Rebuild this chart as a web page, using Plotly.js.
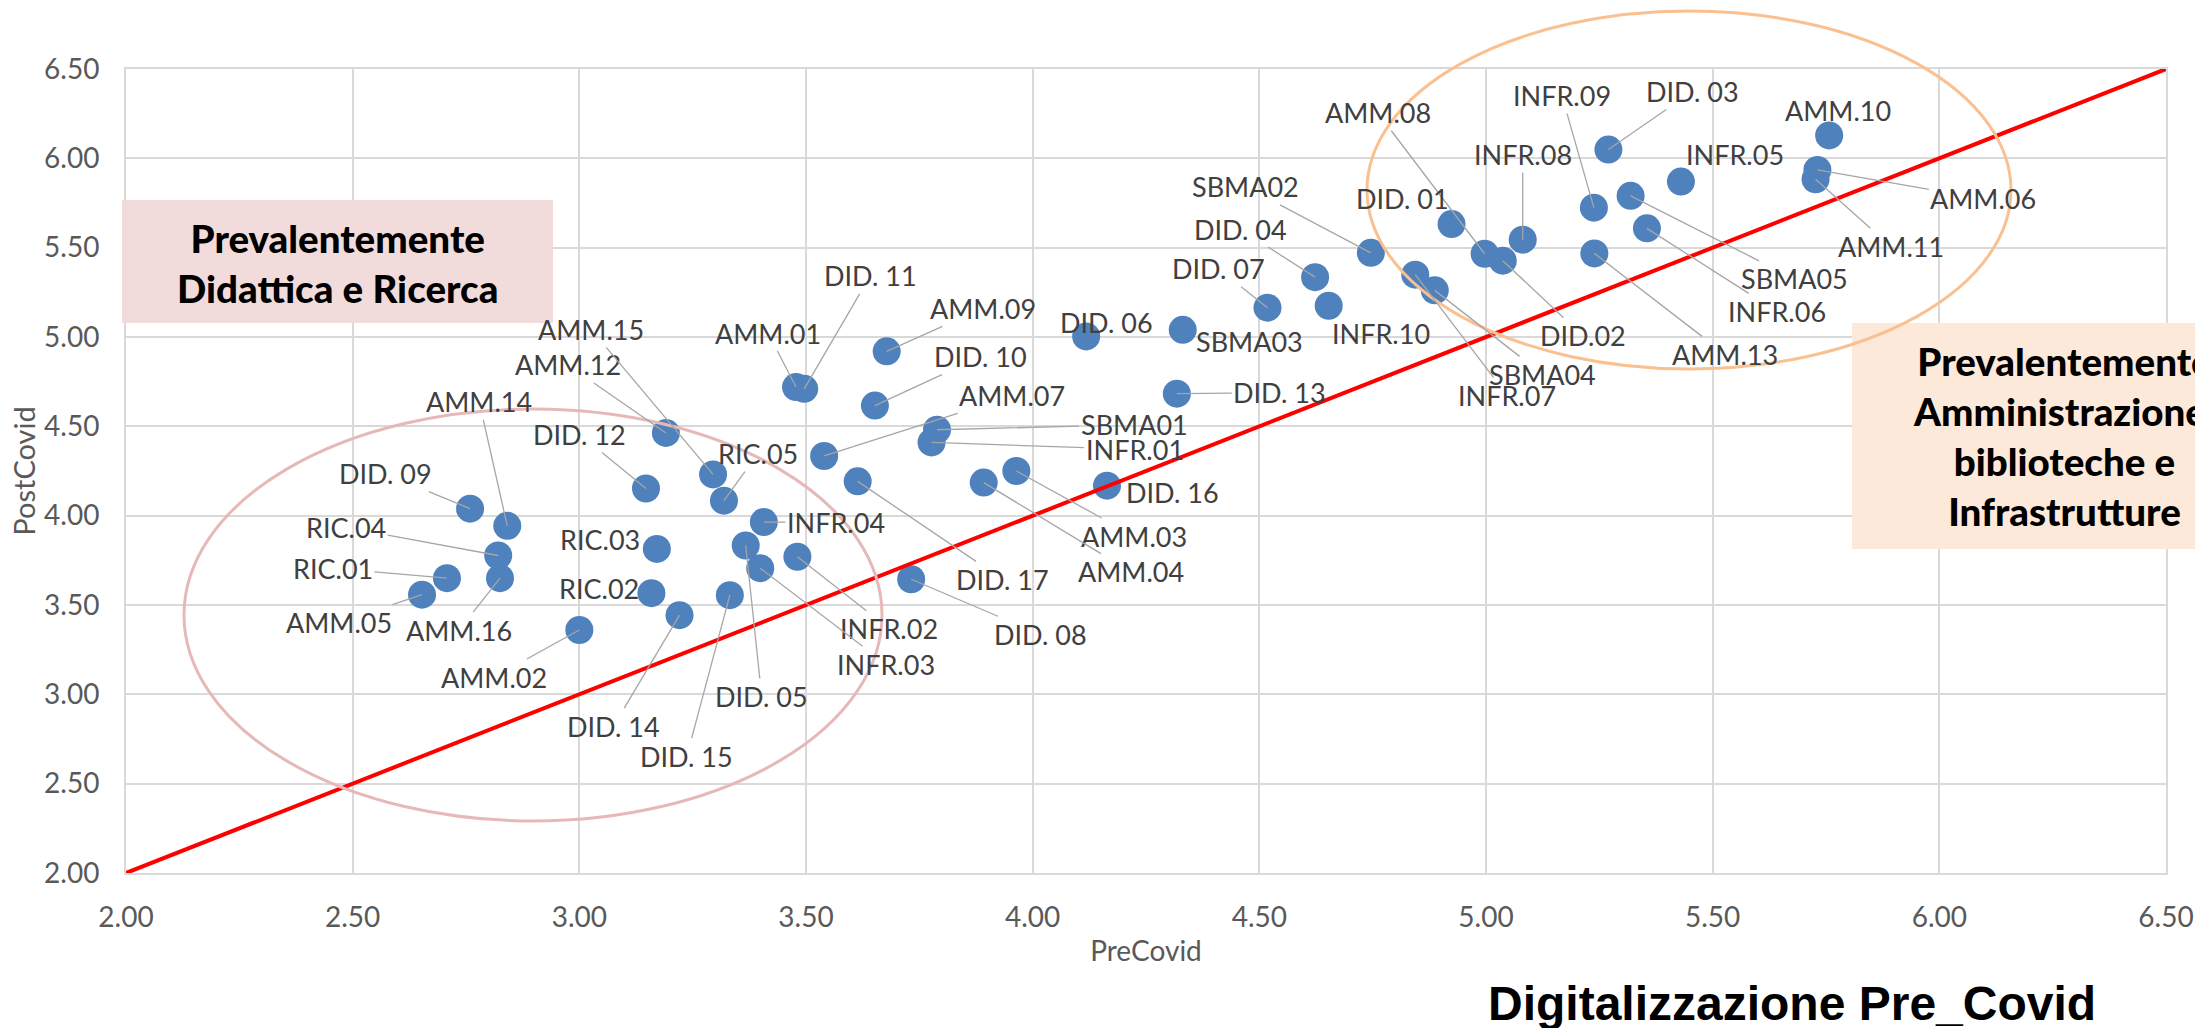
<!DOCTYPE html>
<html>
<head>
<meta charset="utf-8">
<script src="https://cdn.plot.ly/plotly-3.0.1.min.js"></script>
<style>
  html, body { margin: 0; padding: 0; background: #ffffff; }
  #chart { width: 2195px; height: 1028px; }
</style>
</head>
<body>
<div id="chart"></div>
<script>
// ---------------- DATA ----------------
const labels = [
  'AMM.01','AMM.02','AMM.03','AMM.04','AMM.05','AMM.06','AMM.07','AMM.08',
  'AMM.09','AMM.10','AMM.11','AMM.12','AMM.13','AMM.14','AMM.15','AMM.16',
  'DID. 01','DID.02','DID. 03','DID. 04','DID. 05','DID. 06','DID. 07','DID. 08',
  'DID. 09','DID. 10','DID. 11','DID. 12','DID. 13','DID. 14','DID. 15','DID. 16','DID. 17',
  'INFR.01','INFR.02','INFR.03','INFR.04','INFR.05','INFR.06','INFR.07','INFR.08','INFR.09','INFR.10',
  'RIC.01','RIC.02','RIC.03','RIC.04','RIC.05',
  'SBMA01','SBMA02','SBMA03','SBMA04','SBMA05'
];
const preCovid = [
  3.478, 3.000, 3.964, 3.892, 2.653, 5.731, 3.540, 4.997,
  3.678, 5.757, 5.727, 3.191, 5.239, 2.841, 3.295, 2.825,
  4.924, 5.037, 5.270, 4.623, 3.367, 4.118, 4.518, 3.732,
  2.759, 3.652, 3.496, 3.147, 4.318, 3.221, 3.332, 4.164, 3.614,
  3.777, 3.481, 3.399, 3.407, 5.430, 5.355, 4.844, 5.081, 5.238, 4.653,
  2.708, 3.159, 3.171, 2.821, 3.319,
  3.789, 4.746, 4.331, 4.887, 5.319
];
const postCovid = [
  4.720, 3.360, 4.250, 4.185, 3.558, 5.935, 4.334, 5.466,
  4.920, 6.128, 5.883, 4.463, 5.468, 3.943, 4.231, 3.650,
  5.632, 5.427, 6.049, 5.335, 3.833, 5.003, 5.164, 3.644,
  4.039, 4.616, 4.710, 4.152, 4.683, 3.443, 3.555, 4.168, 4.192,
  4.410, 3.770, 3.706, 3.964, 5.870, 5.608, 5.349, 5.545, 5.724, 5.175,
  3.650, 3.566, 3.814, 3.777, 4.084,
  4.481, 5.471, 5.040, 5.261, 5.790
];
const diagonal = [2.0, 6.5];
const tickValues = [2.0, 2.5, 3.0, 3.5, 4.0, 4.5, 5.0, 5.5, 6.0, 6.5];
const tickLabels = ['2.00','2.50','3.00','3.50','4.00','4.50','5.00','5.50','6.00','6.50'];
const xTitle = 'PreCovid';
const yTitle = 'PostCovid';
const bigTitle = 'Digitalizzazione Pre_Covid';
const leftBoxText = 'Prevalentemente<br>Didattica e Ricerca';
const rightBoxText = 'Prevalentemente<br>Amministrazione,<br>biblioteche e<br>Infrastrutture';

// ---------------- LABEL PLACEMENT (pixel offsets dx, dy, leader line) ----------------
const labelOffsets = {
  'AMM.01':[-28,-54,1], 'AMM.02':[-85,47,1], 'AMM.03':[118,65,1], 'AMM.04':[147,89,1],
  'AMM.05':[-83,28,1], 'AMM.06':[166,29,1], 'AMM.07':[188,-60,1], 'AMM.08':[-107,-141,1],
  'AMM.09':[96,-43,1], 'AMM.10':[9,-25,0], 'AMM.11':[75,67,1], 'AMM.12':[-98,-68,1],
  'AMM.13':[131,101,1], 'AMM.14':[-28,-124,1], 'AMM.15':[-122,-145,1], 'AMM.16':[-41,52,1],
  'DID. 01':[-49,-26,0], 'DID.02':[80,75,1], 'DID. 03':[84,-58,1], 'DID. 04':[-75,-48,1],
  'DID. 05':[16,151,1], 'DID. 06':[20,-14,0], 'DID. 07':[-49,-39,1], 'DID. 08':[129,55,1],
  'DID. 09':[-85,-35,1], 'DID. 10':[106,-49,1], 'DID. 11':[66,-113,1], 'DID. 12':[-66,-54,1],
  'DID. 13':[103,-1,1], 'DID. 14':[-66,111,1], 'DID. 15':[-43,161,1], 'DID. 16':[65,7,0],
  'DID. 17':[145,98,1],
  'INFR.01':[203,7,1], 'INFR.02':[92,72,1], 'INFR.03':[126,96,1], 'INFR.04':[72,0,1],
  'INFR.05':[54,-27,0], 'INFR.06':[130,83,1], 'INFR.07':[92,121,1], 'INFR.08':[0,-85,1],
  'INFR.09':[-32,-112,1], 'INFR.10':[52,28,0],
  'RIC.01':[-114,-10,1], 'RIC.02':[-52,-5,0], 'RIC.03':[-57,-9,0], 'RIC.04':[-152,-28,1],
  'RIC.05':[34,-47,1],
  'SBMA01':[197,-5,1], 'SBMA02':[-125,-66,1], 'SBMA03':[67,12,0], 'SBMA04':[108,84,1],
  'SBMA05':[164,83,1]
};

// ---------------- LAYOUT GEOMETRY ----------------
const W = 2195, H = 1028;
const M = { l: 126, r: 29, t: 69, b: 155 };
const PW = W - M.l - M.r, PH = H - M.t - M.b;
const px2x = px => (px - M.l) / PW;      // pixel -> paper x
const px2y = py => (M.t + PH - py) / PH; // pixel -> paper y

const FONT = 'Lato, Carlito, Calibri, "Noto Sans", sans-serif';
const LABEL_COLOR = '#404040';
const AXIS_COLOR = '#595959';

const annotations = labels.map((lab, i) => {
  const o = labelOffsets[lab] || [0, -25, 0];
  const base = {
    x: preCovid[i], y: postCovid[i], xref: 'x', yref: 'y',
    text: lab,
    font: { family: FONT, size: 27, color: LABEL_COLOR }
  };
  if (o[2]) {
    return Object.assign(base, {
      showarrow: true, ax: o[0], ay: o[1], axref: 'pixel', ayref: 'pixel',
      arrowhead: 0, arrowwidth: 1.3, arrowcolor: '#a6a6a6', standoff: 0
    });
  }
  return Object.assign(base, { showarrow: false, xshift: o[0], yshift: -o[1] });
});

// quadrant boxes text
annotations.push({
  xref: 'paper', yref: 'paper', x: px2x(337.5), y: px2y(263),
  xanchor: 'center', yanchor: 'middle', showarrow: false, align: 'center',
  text: leftBoxText,
  font: { family: FONT, size: 38.5, color: '#000000', weight: 900 }
});
annotations.push({
  xref: 'paper', yref: 'paper', x: px2x(2064), y: px2y(436),
  xanchor: 'center', yanchor: 'middle', showarrow: false, align: 'center',
  text: rightBoxText,
  font: { family: FONT, size: 38.5, color: '#000000', weight: 900 }
});
// big bottom title
annotations.push({
  xref: 'paper', yref: 'paper', x: px2x(1792), y: px2y(1003),
  xanchor: 'center', yanchor: 'middle', showarrow: false,
  text: bigTitle,
  font: { family: '"Liberation Sans", Arial, sans-serif', size: 48, color: '#000000', weight: 700 }
});

const shapes = [
  // left pink box
  { type: 'rect', xref: 'paper', yref: 'paper', layer: 'above',
    x0: px2x(122), x1: px2x(553), y0: px2y(323), y1: px2y(200),
    fillcolor: '#f2dcdb', line: { width: 0 } },
  // right peach box
  { type: 'rect', xref: 'paper', yref: 'paper', layer: 'above',
    x0: px2x(1852), x1: px2x(2276), y0: px2y(549), y1: px2y(323),
    fillcolor: '#fde9d9', line: { width: 0 } },
  // pink ellipse
  { type: 'circle', xref: 'paper', yref: 'paper', layer: 'above',
    x0: px2x(184), x1: px2x(882), y0: px2y(821), y1: px2y(409),
    line: { color: '#e6b9b8', width: 3 } },
  // orange ellipse
  { type: 'circle', xref: 'paper', yref: 'paper', layer: 'above',
    x0: px2x(1367), x1: px2x(2011), y0: px2y(369), y1: px2y(11),
    line: { color: '#fac090', width: 3 } }
];

const traces = [
  {
    type: 'scatter', mode: 'markers', x: preCovid, y: postCovid, text: labels,
    marker: { color: '#4f81bd', size: 28, line: { width: 0 } },
    hoverinfo: 'text', cliponaxis: false
  },
  {
    type: 'scatter', mode: 'lines', x: diagonal, y: diagonal,
    line: { color: '#ff0000', width: 4 }, hoverinfo: 'skip', cliponaxis: false
  }
];

const axisCommon = {
  range: [2, 6.5], tickmode: 'array', tickvals: tickValues, ticktext: tickLabels,
  showgrid: true, gridcolor: '#d9d9d9', gridwidth: 2, zeroline: false,
  showline: true, linecolor: '#d9d9d9', linewidth: 2, mirror: true,
  ticks: '', tickfont: { family: FONT, size: 28, color: AXIS_COLOR },
  automargin: false, fixedrange: true
};

const layout = {
  width: W, height: H,
  margin: { l: M.l, r: M.r, t: M.t, b: M.b, pad: 0 },
  paper_bgcolor: '#ffffff', plot_bgcolor: '#ffffff',
  showlegend: false,
  font: { family: FONT },
  xaxis: Object.assign({}, axisCommon, {
    ticklabelstandoff: 18,
    title: { text: xTitle, font: { family: FONT, size: 28, color: AXIS_COLOR }, standoff: 10 }
  }),
  yaxis: Object.assign({}, axisCommon, {
    ticklabelstandoff: 19,
    title: { text: yTitle, font: { family: FONT, size: 29, color: AXIS_COLOR }, standoff: 0 }
  }),
  shapes: shapes,
  annotations: annotations
};

Plotly.newPlot('chart', traces, layout, { displayModeBar: false, staticPlot: true });
</script>
</body>
</html>
